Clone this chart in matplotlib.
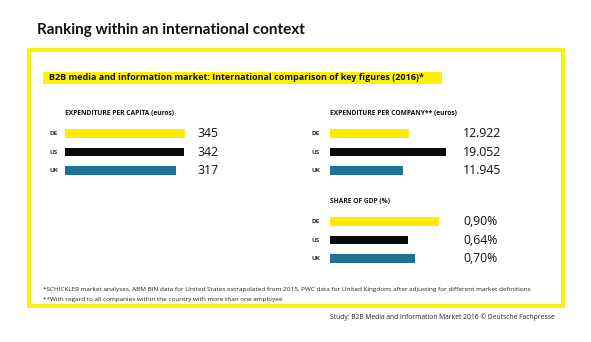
#!/usr/bin/env python

import matplotlib.pyplot as plt
import matplotlib.transforms as mtransforms
from matplotlib.patches import Rectangle

plt.rcParams['font.family'] = ['Open Sans', 'DejaVu Sans']

# Data
countries = ["DE", "US", "UK"]
per_capita = [345, 342, 317]
per_capita_labels = ["345", "342", "317"]
per_company = [12.922, 19.052, 11.945]
per_company_labels = ["12.922", "19.052", "11.945"]
gdp_share = [0.90, 0.64, 0.70]
gdp_share_labels = ["0,90%", "0,64%", "0,70%"]

bar_colors = ["#FFEC00", "#0A0A0A", "#1B7398"]
frame_yellow = "#FFF200"

W, H = 591, 342
fig = plt.figure(figsize=(W / 100, H / 100), dpi=100)


def fx(px):
    return px / W


def fy(py):
    return 1 - py / H


# Background axes for frame and free text (pixel coordinates)
bg = fig.add_axes([0, 0, 1, 1])
bg.set_xlim(0, W)
bg.set_ylim(H, 0)
bg.axis("off")

bg.add_patch(Rectangle((29, 50), 534, 256, fill=False,
                       edgecolor=frame_yellow, linewidth=2.8))

bg.text(37, 30, "Ranking within an international context", fontsize=11,
        fontweight="bold", color="#111111", va="center", ha="left",
        family=["Lato", "DejaVu Sans"])

bg.add_patch(Rectangle((43, 72), 399, 12, facecolor=frame_yellow,
                       edgecolor="none"))
bg.text(49, 78, "B2B media and information market: International comparison "
        "of key figures (2016)*", fontsize=6.5, fontweight="bold",
        color="#111111", va="center", ha="left")

bg.text(43, 290, "*SCHICKLER market analyses, ABM BIN data for United States "
        "extrapolated from 2015, PWC data for United Kingdom; after adjusting "
        "for different market definitions", fontsize=4.55, color="#222222",
        va="center", ha="left")
bg.text(43, 299, "**With regard to all companies within the country with "
        "more than one employee", fontsize=4.55, color="#222222",
        va="center", ha="left")
bg.text(555, 317, "Study: B2B Media and Information Market 2016 \u00a9 "
        "Deutsche Fachpresse", fontsize=4.85, color="#222222",
        va="center", ha="right")


def panel(x0, y0, scale, values, labels, title, value_x, label_x):
    # axes positioned in pixels, bars scaled in data units
    width = 130
    height = 56
    ax = fig.add_axes([fx(x0), fy(y0 + height), fx(width), height / H])
    ax.barh(range(3), values, height=0.45, color=bar_colors)
    ax.set_xlim(0, width / scale)
    ax.set_ylim(2.5, -0.5)
    ax.axis("off")
    trans = mtransforms.blended_transform_factory(fig.transFigure,
                                                  ax.transData)
    for i in range(3):
        ax.text(fx(label_x), i, countries[i], transform=trans, fontsize=4.5,
                fontweight="bold", color="#333333", va="center", ha="left")
        ax.text(fx(value_x), i, labels[i], transform=trans, fontsize=8.8,
                color="#111111", va="center", ha="left")
    bg.text(x0, y0 - 11, title, fontsize=4.75, fontweight="bold",
            color="#111111", va="center", ha="left")
    return ax


panel(65, 124, 0.349, per_capita, per_capita_labels,
      "EXPENDITURE PER CAPITA (euros)", 197, 49)
panel(330, 124, 6.09, per_company, per_company_labels,
      "EXPENDITURE PER COMPANY** (euros)", 463, 312)
panel(330, 212, 121.4, gdp_share, gdp_share_labels,
      "SHARE OF GDP (%)", 463, 312)

fig.savefig("out.png", dpi=100)
